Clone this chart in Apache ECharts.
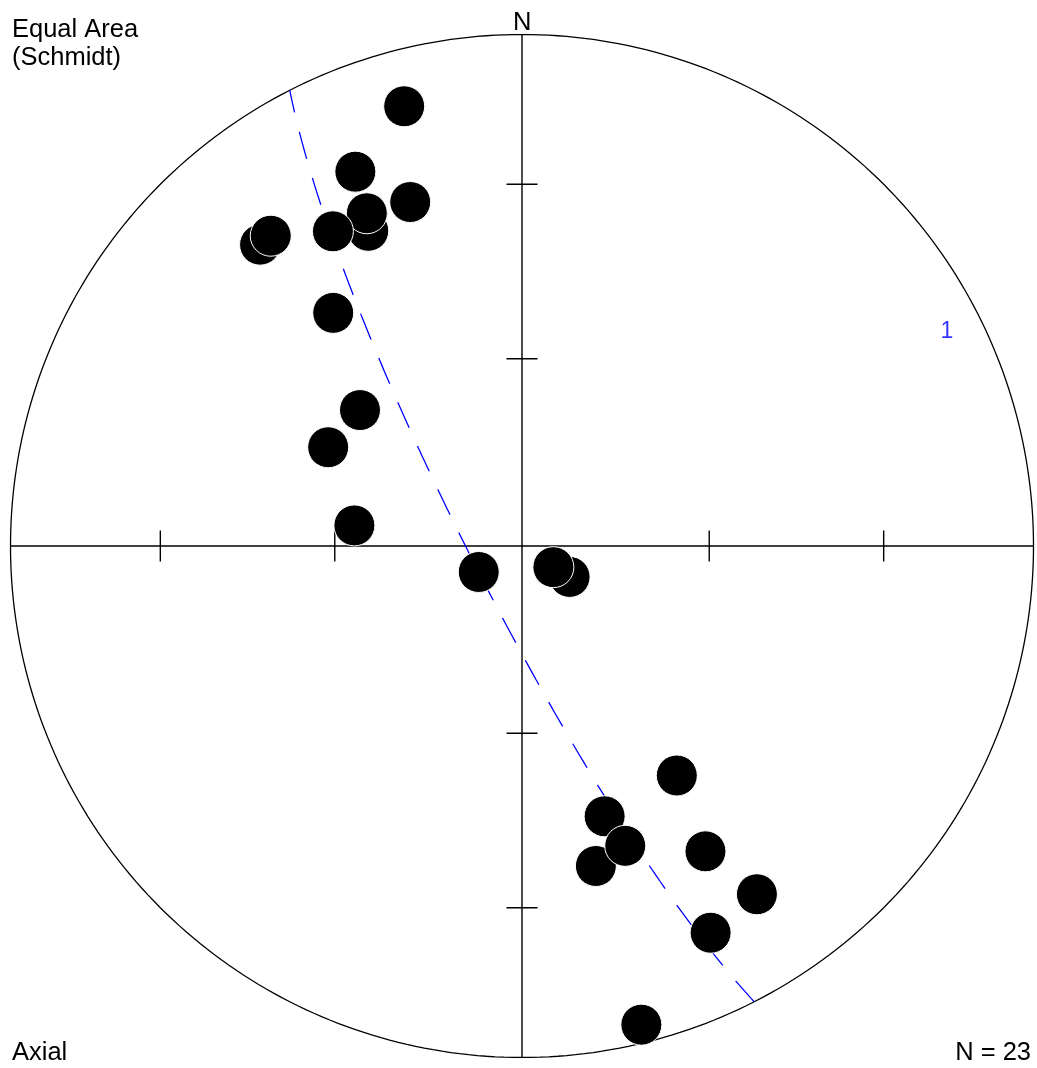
<!DOCTYPE html>
<html>
<head>
<meta charset="utf-8">
<script src="https://cdn.jsdelivr.net/npm/echarts@6/dist/echarts.min.js"></script>
<style>
  html, body { margin: 0; padding: 0; background: #ffffff; }
  #chart { width: 1037px; height: 1068px; }
</style>
</head>
<body>
<div id="chart"></div>
<script>
// Axial lineations, lower hemisphere: trend (deg clockwise from N) and plunge (deg)
const trends  = [345, 336, 342, 334, 335, 329, 319, 321, 321, 310, 297, 277, 239, 123, 124, 146, 163, 167, 161, 149, 146, 154, 166];
const plunges = [ 12,  21,  30,  32,  29,  29,  23,  23,  41,  56,  55,  63,  82,  81,  84,  45,  44,  36,  38,  31,  19,  17,   4];

// Best-fit girdle: pole (cylindrical axis) orientation and its label
const girdlePoleTrend  = 63;
const girdlePolePlunge = 8;
const girdleLabel = '1';

// Plunge values marked on the N-S and E-W diameters
const tickPlunges = [30, 60];
const tickTrends  = [0, 90, 180, 270];

const sampleCount = 'N = ' + trends.length;

const D2R = Math.PI / 180;

// Schmidt (equal-area) projection, unit primitive radius
function project(trend, plunge) {
  const r = Math.SQRT2 * Math.sin((90 - plunge) / 2 * D2R);
  return [r * Math.sin(trend * D2R), r * Math.cos(trend * D2R)];
}

// Unit vector (east, north, down) of a line
function toVec(trend, plunge) {
  const c = Math.cos(plunge * D2R);
  return [c * Math.sin(trend * D2R), c * Math.cos(trend * D2R), Math.sin(plunge * D2R)];
}
function toLine(v) {
  let [e, n, d] = v;
  if (d < 0) { e = -e; n = -n; d = -d; }
  const plunge = Math.asin(Math.min(1, d)) / D2R;
  let trend = Math.atan2(e, n) / D2R;
  if (trend < 0) trend += 360;
  return [trend, plunge];
}

// Primitive circle
const primitive = [];
for (let a = 0; a <= 360; a += 1) primitive.push(project(a, 0));

// N-S and E-W diameters
const nsLine = [project(0, 0), project(180, 0)];
const ewLine = [project(270, 0), project(90, 0)];

// Tick marks across the diameters
const TICK_HALF = 15.5 / 511.5;
const tickSeries = [];
tickTrends.forEach(function (t) {
  tickPlunges.forEach(function (p) {
    const c = project(t, p);
    const horizontal = (t === 0 || t === 180);
    const seg = horizontal
      ? [[c[0] - TICK_HALF, c[1]], [c[0] + TICK_HALF, c[1]]]
      : [[c[0], c[1] - TICK_HALF], [c[0], c[1] + TICK_HALF]];
    tickSeries.push({
      type: 'line', data: seg, symbol: 'none', silent: true,
      lineStyle: { color: '#000', width: 1.4 }, z: 3
    });
  });
});

// Great circle of the girdle: plane normal to the pole
const strikeVec = toVec(girdlePoleTrend + 90, 0);
const dipVec = toVec(girdlePoleTrend + 180, 90 - girdlePolePlunge);
const girdle = [];
for (let t = 0; t <= 180; t += 1) {
  const c = Math.cos(t * D2R), s = Math.sin(t * D2R);
  const v = [c * strikeVec[0] + s * dipVec[0], c * strikeVec[1] + s * dipVec[1], c * strikeVec[2] + s * dipVec[2]];
  const tp = toLine(v);
  girdle.push(project(tp[0], tp[1]));
}

const points = trends.map(function (t, i) { return project(t, plunges[i]); });
const polePoint = project(girdlePoleTrend, girdlePolePlunge);

const FONT = '"Liberation Sans", Arial, Helvetica, sans-serif';
const TEXT_FONT = '25.5px ' + FONT;

const chart = echarts.init(document.getElementById('chart'), null, { renderer: 'canvas' });
chart.setOption({
  animation: false,
  backgroundColor: '#ffffff',
  grid: { left: 10.5, top: 34.5, width: 1023, height: 1023 },
  xAxis: { type: 'value', min: -1, max: 1, show: false },
  yAxis: { type: 'value', min: -1, max: 1, show: false },
  series: [
    {
      type: 'line', data: primitive, symbol: 'none', silent: true,
      lineStyle: { color: '#000', width: 1.3 }, z: 2
    },
    {
      type: 'line', data: nsLine, symbol: 'none', silent: true,
      lineStyle: { color: '#000', width: 1.4 }, z: 2
    },
    {
      type: 'line', data: ewLine, symbol: 'none', silent: true,
      lineStyle: { color: '#000', width: 1.4 }, z: 2
    }
  ].concat(tickSeries).concat([
    {
      type: 'line', data: girdle, symbol: 'none', silent: true,
      lineStyle: { color: '#0000ff', width: 1.3, type: [28, 20] }, z: 4
    },
    {
      type: 'scatter', data: [polePoint], symbolSize: 0, silent: true, z: 4,
      label: {
        show: true, position: 'inside', formatter: girdleLabel,
        color: '#0000ff', fontFamily: FONT, fontSize: 23, offset: [2, 1]
      }
    },
    {
      type: 'scatter', data: points, symbol: 'circle', symbolSize: 41, z: 5,
      itemStyle: { color: '#000000', borderColor: '#ffffff', borderWidth: 1, opacity: 1 }
    }
  ]),
  graphic: [
    { type: 'text', left: 12, top: 17, style: { text: 'Equal Area', font: TEXT_FONT, fill: '#000' } },
    { type: 'text', left: 12, top: 45, style: { text: '(Schmidt)', font: TEXT_FONT, fill: '#000' } },
    { type: 'text', left: 513, top: 10, style: { text: 'N', font: TEXT_FONT, fill: '#000' } },
    { type: 'text', left: 12, top: 1040, style: { text: 'Axial', font: TEXT_FONT, fill: '#000' } },
    { type: 'text', right: 6, top: 1040, style: { text: sampleCount, font: TEXT_FONT, fill: '#000' } }
  ]
});
</script>
</body>
</html>
